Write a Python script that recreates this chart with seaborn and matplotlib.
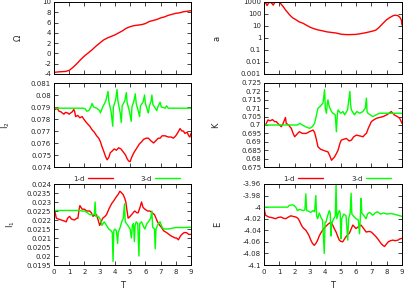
import numpy as np
import pandas as pd
import matplotlib
matplotlib.use("Agg")
import matplotlib.pyplot as plt
import seaborn as sns
from matplotlib.ticker import FuncFormatter, MultipleLocator, FixedLocator
from matplotlib.lines import Line2D

# ---------------- data ----------------
omega_T = [0, 0.25, 0.5, 0.75, 1.0, 1.25, 1.5, 1.75, 2.0, 2.25, 2.5, 2.75, 3.0, 3.25, 3.5, 3.75,
           4.0, 4.25, 4.5, 4.75, 5.0, 5.25, 5.5, 5.75, 6.0, 6.25, 6.5, 6.75, 7.0, 7.25, 7.5, 7.75,
           8.0, 8.25, 8.5, 8.75, 9.0]
omega_v = [-3.7, -3.6, -3.55, -3.5, -3.3, -2.7, -2.0, -1.2, -0.5, 0.1, 0.7, 1.4, 2.0, 2.6, 3.0, 3.3,
           3.6, 4.0, 4.4, 4.9, 5.2, 5.4, 5.5, 5.6, 5.8, 6.2, 6.4, 6.6, 6.9, 7.1, 7.4, 7.6,
           7.8, 7.9, 8.1, 8.2, 8.3]

a_T = [0, 0.1, 0.2, 0.3, 0.4, 0.5, 0.6, 0.7, 0.85, 1.0, 1.1, 1.24, 1.4, 1.55, 1.67, 1.85, 2.1, 2.3,
       2.54, 2.8, 3.0, 3.2, 3.5, 3.8, 4.07, 4.4, 4.7, 5.0, 5.15, 5.5, 6.0, 6.3, 6.6, 6.9, 7.1, 7.3,
       7.5, 7.7, 7.98, 8.2, 8.4, 8.55, 8.74, 8.85, 8.96, 9.0]
a_v = [700, 900, 500, 850, 950, 800, 550, 900, 1000, 900, 700, 430, 220, 130, 85, 50, 32, 22,
       17, 11, 8, 6.3, 4.8, 4.0, 3.3, 2.9, 2.6, 2.1, 2.0, 1.9, 2.0, 2.3, 2.7, 3.3, 3.8, 4.6,
       7.5, 14, 32, 50, 70, 80, 72, 55, 32, 12]

i2_red_T = [0, 0.1, 0.2, 0.33, 0.45, 0.55, 0.65, 0.75, 0.9, 1.0, 1.09, 1.2, 1.3, 1.36, 1.42, 1.55,
            1.7, 1.85, 1.95, 2.07, 2.2, 2.35, 2.5, 2.65, 2.8, 2.94, 3.05, 3.15, 3.27, 3.38, 3.49,
            3.6, 3.7, 3.8, 3.95, 4.1, 4.25, 4.4, 4.58, 4.7, 4.8, 4.9, 5.0, 5.1, 5.25, 5.45, 5.6,
            5.75, 5.88, 6.05, 6.2, 6.35, 6.54, 6.7, 6.85, 6.97, 7.1, 7.3, 7.5, 7.7, 7.84, 8.0,
            8.15, 8.28, 8.4, 8.5, 8.6, 8.75, 8.85, 8.93, 9.0]
i2_red_v = [0.0790, 0.0788, 0.0789, 0.07865, 0.0786, 0.0785, 0.0784, 0.07855, 0.0785, 0.0784,
            0.0785, 0.0786, 0.0788, 0.0786, 0.0782, 0.0783, 0.0781, 0.0782, 0.0780, 0.0778,
            0.0776, 0.0774, 0.0771, 0.0769, 0.0766, 0.0764, 0.0761, 0.0757, 0.0753, 0.0749,
            0.0746, 0.0748, 0.0752, 0.0753, 0.0755, 0.0754, 0.0756, 0.0755, 0.0752, 0.0750,
            0.0747, 0.0745, 0.07445, 0.0748, 0.0752, 0.0756, 0.0759, 0.0761, 0.0763, 0.0764,
            0.0764, 0.0762, 0.0760, 0.0762, 0.0764, 0.0764, 0.0766, 0.0766, 0.0765, 0.0765,
            0.0764, 0.0766, 0.0769, 0.0772, 0.0770, 0.0770, 0.0768, 0.0769, 0.0766, 0.0765,
            0.0768]

i2_grn_T = [0, 1.9, 2.05, 2.15, 2.3, 2.45, 2.5, 2.6, 2.8, 3.0, 3.05, 3.2, 3.4, 3.55, 3.6, 3.75,
            3.86, 3.9, 4.05, 4.14, 4.2, 4.35, 4.42, 4.48, 4.65, 4.75, 4.8, 4.98, 5.07, 5.12, 5.25,
            5.34, 5.4, 5.55, 5.62, 5.68, 5.85, 5.95, 6.0, 6.15, 6.2, 6.27, 6.38, 6.43, 6.5, 6.7,
            6.75, 6.82, 6.97, 7.05, 7.3, 7.4, 7.5, 9.0]
i2_grn_v = [0.0789, 0.0789, 0.07885, 0.07865, 0.0787, 0.0791, 0.0793, 0.0790, 0.0789, 0.0787,
            0.0785, 0.0790, 0.0795, 0.0803, 0.0795, 0.0786, 0.0774, 0.0790, 0.0796, 0.08045,
            0.0795, 0.0785, 0.0777, 0.0791, 0.0795, 0.0802, 0.0794, 0.0785, 0.0778, 0.0790,
            0.0795, 0.0801, 0.0793, 0.0786, 0.0782, 0.0791, 0.0794, 0.0800, 0.0793, 0.0787,
            0.0785, 0.0791, 0.0795, 0.0800, 0.0792, 0.0788, 0.0787, 0.0790, 0.0794, 0.0790,
            0.0789, 0.0791, 0.0789, 0.0789]

k_red_T = [0, 0.1, 0.26, 0.4, 0.55, 0.7, 0.8, 0.95, 1.13, 1.25, 1.4, 1.45, 1.6, 1.78, 1.9, 2.0,
           2.15, 2.3, 2.5, 2.76, 2.95, 3.2, 3.3, 3.4, 3.52, 3.7, 3.85, 4.0, 4.17, 4.3, 4.4, 4.5,
           4.6, 4.72, 4.83, 4.95, 5.04, 5.2, 5.37, 5.55, 5.7, 5.85, 6.03, 6.25, 6.46, 6.6, 6.68,
           6.8, 6.9, 7.0, 7.15, 7.33, 7.55, 7.76, 8.0, 8.15, 8.3, 8.4, 8.5, 8.7, 8.85, 8.95, 9.0]
k_red_v = [0.6995, 0.700, 0.703, 0.7025, 0.7032, 0.702, 0.702, 0.7005, 0.699, 0.701, 0.7045,
           0.701, 0.700, 0.698, 0.695, 0.693, 0.6945, 0.696, 0.695, 0.695, 0.696, 0.697, 0.6955,
           0.692, 0.687, 0.6855, 0.685, 0.6845, 0.684, 0.6815, 0.679, 0.680, 0.681, 0.683, 0.685,
           0.689, 0.691, 0.6915, 0.692, 0.6905, 0.691, 0.693, 0.694, 0.6935, 0.693, 0.6945,
           0.695, 0.698, 0.700, 0.702, 0.703, 0.704, 0.7045, 0.705, 0.706, 0.707, 0.708, 0.707,
           0.706, 0.705, 0.704, 0.702, 0.701]

k_grn_T = [0, 2.2, 2.33, 2.5, 2.7, 2.98, 3.15, 3.3, 3.4, 3.52, 3.65, 3.75, 3.85, 3.95, 4.0, 4.07,
           4.12, 4.17, 4.25, 4.4, 4.5, 4.65, 4.72, 4.78, 4.83, 5.0, 5.15, 5.26, 5.45, 5.6, 5.65,
           5.7, 5.9, 6.05, 6.24, 6.45, 6.6, 6.68, 6.72, 6.78, 7.1, 7.3, 7.54, 7.98, 8.5, 9.0]
k_grn_v = [0.700, 0.700, 0.701, 0.700, 0.699, 0.698, 0.699, 0.701, 0.705, 0.710, 0.711, 0.712,
           0.713, 0.721, 0.710, 0.707, 0.712, 0.715, 0.711, 0.708, 0.707, 0.706, 0.696, 0.706,
           0.709, 0.707, 0.708, 0.706, 0.709, 0.720, 0.712, 0.709, 0.706, 0.708, 0.707, 0.708,
           0.710, 0.716, 0.708, 0.707, 0.705, 0.706, 0.707, 0.707, 0.707, 0.707]

i1_red_T = [0, 0.08, 0.15, 0.3, 0.48, 0.65, 0.8, 0.9, 1.02, 1.15, 1.35, 1.5, 1.57, 1.65, 1.7,
            1.85, 2.0, 2.15, 2.35, 2.45, 2.57, 2.7, 2.79, 2.9, 3.0, 3.1, 3.2, 3.35, 3.45, 3.6,
            3.78, 3.95, 4.1, 4.2, 4.33, 4.45, 4.55, 4.65, 4.72, 4.8, 4.87, 5.0, 5.1, 5.2, 5.3,
            5.45, 5.53, 5.65, 5.75, 5.85, 5.97, 6.15, 6.3, 6.45, 6.6, 6.7, 6.8, 6.95, 7.05, 7.2,
            7.4, 7.55, 7.72, 7.85, 7.95, 8.05, 8.17, 8.3, 8.4, 8.55, 8.7, 8.85, 9.0]
i1_red_v = [0.02258, 0.0224, 0.0221, 0.02205, 0.0220, 0.02195, 0.0219, 0.0221, 0.0222, 0.02205,
            0.0220, 0.0221, 0.0221, 0.0226, 0.0228, 0.0226, 0.0226, 0.0225, 0.0225, 0.0224,
            0.0222, 0.0223, 0.0223, 0.0220, 0.0217, 0.0219, 0.0221, 0.0222, 0.0223, 0.0226,
            0.0229, 0.0231, 0.0233, 0.0234, 0.0236, 0.0235, 0.0234, 0.0232, 0.0230, 0.0225,
            0.0221, 0.0222, 0.0223, 0.0224, 0.0225, 0.0224, 0.0224, 0.0227, 0.0230, 0.0227,
            0.0226, 0.0225, 0.0225, 0.0224, 0.0223, 0.0221, 0.0219, 0.0217, 0.0216, 0.0214,
            0.0213, 0.0212, 0.0211, 0.02105, 0.0210, 0.0210, 0.0209, 0.0211, 0.0212, 0.0213,
            0.0213, 0.0212, 0.0212]

i1_grn_T = [0, 1.7, 1.8, 2.0, 2.2, 2.35, 2.55, 2.65, 2.7, 2.75, 2.9, 3.0, 3.1, 3.15, 3.3, 3.45,
            3.6, 3.75, 3.83, 3.88, 3.93, 4.0, 4.1, 4.18, 4.22, 4.35, 4.45, 4.55, 4.63, 4.68, 4.85,
            5.0, 5.08, 5.15, 5.22, 5.28, 5.33, 5.4, 5.5, 5.58, 5.63, 5.75, 5.9, 5.97, 6.1, 6.2,
            6.35, 6.43, 6.48, 6.6, 6.65, 6.7, 6.85, 6.97, 7.1, 7.2, 7.5, 8.0, 8.5, 9.0]
i1_grn_v = [0.02253, 0.02253, 0.0225, 0.0225, 0.0224, 0.0223, 0.0223, 0.0223, 0.0230, 0.0222,
            0.0222, 0.0221, 0.0219, 0.0217, 0.0219, 0.0217, 0.0215, 0.0214, 0.0213, 0.0197,
            0.0214, 0.0215, 0.0214, 0.0207, 0.0213, 0.0216, 0.0219, 0.0221, 0.0229, 0.0219,
            0.0217, 0.0215, 0.0210, 0.0217, 0.0218, 0.0208, 0.0217, 0.0219, 0.0218, 0.0200,
            0.0218, 0.0219, 0.0216, 0.0215, 0.0218, 0.0219, 0.0221, 0.0225, 0.0216, 0.0215,
            0.0204, 0.0215, 0.0218, 0.0219, 0.0216, 0.0215, 0.0215, 0.02158, 0.02158, 0.0216]

e_red_T = [0, 0.05, 0.1, 0.3, 0.5, 0.76, 0.9, 1.1, 1.25, 1.42, 1.6, 1.75, 1.9, 2.07, 2.2, 2.3,
           2.4, 2.5, 2.6, 2.73, 2.85, 2.95, 3.05, 3.17, 3.28, 3.4, 3.5, 3.6, 3.7, 3.82, 4.0, 4.15,
           4.25, 4.37, 4.5, 4.6, 4.7, 4.8, 4.91, 5.0, 5.13, 5.25, 5.35, 5.45, 5.57, 5.68, 5.79,
           5.9, 6.0, 6.15, 6.33, 6.5, 6.66, 6.85, 7.0, 7.15, 7.3, 7.45, 7.64, 7.75, 7.86, 7.98,
           8.1, 8.25, 8.4, 8.55, 8.74, 8.85, 9.0]
e_red_v = [-4.0, -4.008, -4.014, -4.017, -4.018, -4.02, -4.018, -4.017, -4.019, -4.02, -4.017,
           -4.015, -4.016, -4.017, -4.019, -4.023, -4.029, -4.034, -4.037, -4.04, -4.045, -4.05,
           -4.057, -4.063, -4.066, -4.062, -4.057, -4.05, -4.045, -4.04, -4.034, -4.03, -4.028,
           -4.026, -4.032, -4.038, -4.043, -4.05, -4.057, -4.059, -4.06, -4.055, -4.051, -4.048,
           -4.045, -4.038, -4.031, -4.034, -4.037, -4.034, -4.031, -4.037, -4.043, -4.042,
           -4.043, -4.047, -4.051, -4.056, -4.063, -4.066, -4.068, -4.064, -4.06, -4.058,
           -4.057, -4.058, -4.057, -4.055, -4.054]

e_grn_T = [0, 1.55, 1.64, 1.86, 1.95, 2.07, 2.18, 2.3, 2.45, 2.6, 2.67, 2.73, 2.78, 2.9, 3.05,
           3.2, 3.3, 3.38, 3.43, 3.5, 3.6, 3.72, 3.82, 3.93, 3.98, 4.04, 4.15, 4.26, 4.32, 4.37,
           4.42, 4.55, 4.65, 4.7, 4.75, 4.85, 4.91, 4.97, 5.02, 5.07, 5.2, 5.35, 5.46, 5.52, 5.62,
           5.68, 5.73, 5.85, 6.0, 6.15, 6.23, 6.28, 6.33, 6.38, 6.5, 6.66, 6.75, 6.88, 7.0, 7.1,
           7.25, 7.4, 7.6, 7.8, 8.0, 8.3, 8.6, 9.0]
e_grn_v = [-4.0, -4.0, -3.997, -3.996, -3.997, -4.0, -4.006, -4.004, -4.005, -4.006, -4.004,
           -3.977, -4.006, -4.007, -4.009, -4.006, -4.008, -3.98, -4.015, -4.02, -4.01, -4.018,
           -4.023, -4.08, -4.026, -4.026, -4.015, -4.006, -4.01, -4.05, -4.028, -4.02, -4.015,
           -3.96, -4.02, -4.01, -4.006, -4.01, -4.055, -4.02, -4.012, -4.015, -4.057, -4.02,
           -4.01, -3.976, -4.012, -4.016, -4.02, -4.022, -4.046, -4.02, -3.985, -4.01, -4.014,
           -4.02, -4.012, -4.009, -4.012, -4.014, -4.01, -4.008, -4.012, -4.01, -4.012, -4.011,
           -4.013, -4.016]

x_ticks = [0, 1, 2, 3, 4, 5, 6, 7, 8, 9]
series_labels = ["1-d", "3-d"]
RED = "#ff0000"
GREEN = "#00ff00"

# ---------------- style ----------------
sns.set_theme(style="ticks")
plt.rcParams["font.family"] = ["DejaVu Sans"]
plt.rcParams.update({
    "font.size": 5,
    "axes.linewidth": 0.7,
    "xtick.direction": "in", "ytick.direction": "in",
    "xtick.top": True, "ytick.right": True,
    "xtick.major.size": 3, "ytick.major.size": 3,
    "xtick.major.width": 0.6, "ytick.major.width": 0.6,
    "xtick.minor.size": 1.5, "ytick.minor.size": 1.5,
    "xtick.labelsize": 5, "ytick.labelsize": 5,
    "axes.labelsize": 6,
    "xtick.major.pad": 3, "ytick.major.pad": 2,
})

W, H = 407, 291
fig = plt.figure(figsize=(W / 100, H / 100), dpi=100)


def add_ax(x0, x1, y0, y1):
    return fig.add_axes([x0 / W, 1 - y1 / H, (x1 - x0) / W, (y1 - y0) / H])


gfmt = FuncFormatter(lambda v, p: "%g" % round(v, 6))


def plot_series(ax, T, v, color):
    df = pd.DataFrame({"T": T, "v": v})
    sns.lineplot(data=df, x="T", y="v", ax=ax, color=color, lw=1.0,
                 sort=False, estimator=None)


LX0, LX1 = 54, 191
RX0, RX1 = 264, 402
rows = [(2, 74), (83, 167), (184, 265)]

axes = {}
axes["om"] = add_ax(LX0, LX1, *rows[0])
axes["a"] = add_ax(RX0, RX1, *rows[0])
axes["i2"] = add_ax(LX0, LX1, *rows[1])
axes["k"] = add_ax(RX0, RX1, *rows[1])
axes["i1"] = add_ax(LX0, LX1, *rows[2])
axes["e"] = add_ax(RX0, RX1, *rows[2])

axes["a"].set_yscale("log")

plot_series(axes["om"], omega_T, omega_v, RED)
plot_series(axes["a"], a_T, a_v, RED)
plot_series(axes["i2"], i2_red_T, i2_red_v, RED)
plot_series(axes["i2"], i2_grn_T, i2_grn_v, GREEN)
plot_series(axes["k"], k_red_T, k_red_v, RED)
plot_series(axes["k"], k_grn_T, k_grn_v, GREEN)
plot_series(axes["i1"], i1_red_T, i1_red_v, RED)
plot_series(axes["i1"], i1_grn_T, i1_grn_v, GREEN)
plot_series(axes["e"], e_red_T, e_red_v, RED)
plot_series(axes["e"], e_grn_T, e_grn_v, GREEN)

limits = {
    "om": (-4, 10, 2),
    "i2": (0.074, 0.081, 0.001),
    "k": (0.675, 0.725, 0.005),
    "i1": (0.0195, 0.024, 0.0005),
    "e": (-4.1, -3.96, 0.02),
}
for key, (lo, hi, step) in limits.items():
    ax = axes[key]
    ax.set_ylim(lo, hi)
    ax.yaxis.set_major_locator(MultipleLocator(step))
    ax.yaxis.set_major_formatter(gfmt)

axes["a"].set_ylim(0.001, 1000)
axes["a"].yaxis.set_major_locator(FixedLocator([0.001, 0.01, 0.1, 1, 10, 100, 1000]))
axes["a"].yaxis.set_major_formatter(gfmt)
axes["a"].yaxis.set_minor_locator(FixedLocator([]))

ylabels = {"om": ("Ω", -0.23), "a": ("a", -0.31), "i2": ("I$_2$", -0.31),
           "k": ("K", -0.32), "i1": ("I$_1$", -0.27), "e": ("E", -0.30)}
for key, ax in axes.items():
    ax.set_xlim(0, 9)
    ax.xaxis.set_major_locator(FixedLocator(x_ticks))
    ax.tick_params(which="both", top=True, right=True, direction="in")
    for s in ax.spines.values():
        s.set_visible(True)
        s.set_color("black")
    lab, lx = ylabels[key]
    ax.set_ylabel(lab, rotation=90)
    ax.yaxis.set_label_coords(lx, 0.5)
    if key in ("i1", "e"):
        ax.set_xlabel("T")
        ax.xaxis.set_major_formatter(gfmt)
    else:
        ax.set_xlabel("")
        ax.tick_params(labelbottom=False)

handles = [Line2D([], [], color=RED, lw=1.0), Line2D([], [], color=GREEN, lw=1.0)]
for key in ("i1", "e"):
    axes[key].legend(handles, series_labels, loc="center", bbox_to_anchor=(0.53, 1.065),
                     ncol=2, frameon=False, markerfirst=False, handlelength=3.6,
                     handletextpad=0.5, columnspacing=4.0, fontsize=5,
                     borderaxespad=0, borderpad=0)

fig.savefig("out.png", dpi=100)
